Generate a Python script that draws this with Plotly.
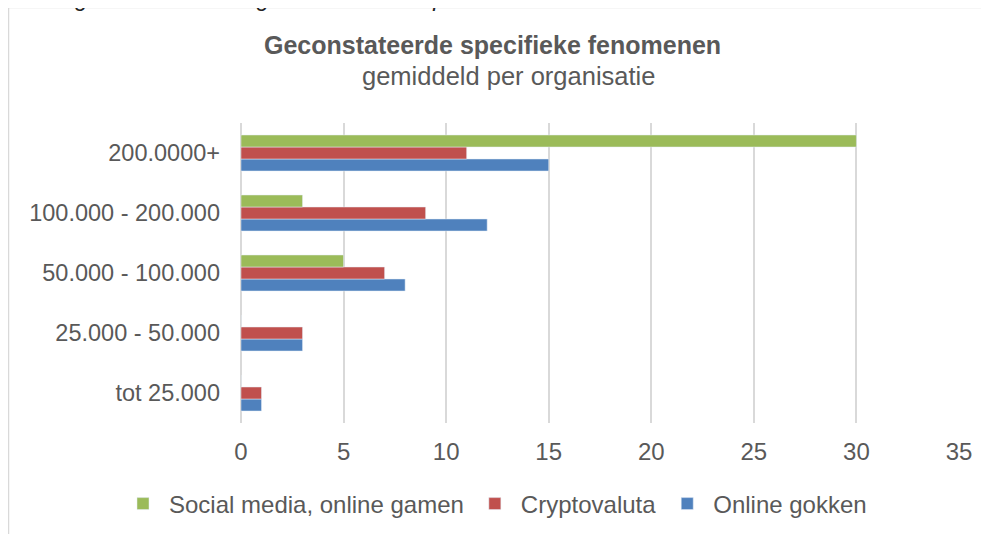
import plotly.graph_objects as go

# categories, listed bottom to top (plotly draws the first category at the bottom)
categories = ['tot 25.000', '25.000 - 50.000', '50.000 - 100.000',
              '100.000 - 200.000', '200.0000+']
online_gokken = [1, 3, 8, 12, 15]
cryptovaluta = [1, 3, 7, 9, 11]
social_media = [0, 0, 5, 3, 30]
x_ticks = [0, 5, 10, 15, 20, 25, 30, 35]

# the page puts the figure 8px in from the top-left corner
W, H = 989, 534
PLOT_L, PLOT_R, PLOT_T, PLOT_B = 241, 959, 123, 423   # plot area in page pixels
OFF = 8
TEXT = '#595959'
FONT = 'Liberation Sans, Arial, sans-serif'


def px_x(p):
    return (p - PLOT_L) / (PLOT_R - PLOT_L)


def px_y(p):
    return (PLOT_B - p) / (PLOT_B - PLOT_T)


fig = go.Figure()
fig.add_trace(go.Bar(y=categories, x=online_gokken, orientation='h',
                     name='Online gokken', marker_color='#4F81BD'))
fig.add_trace(go.Bar(y=categories, x=cryptovaluta, orientation='h',
                     name='Cryptovaluta', marker_color='#C0504D'))
fig.add_trace(go.Bar(y=categories, x=social_media, orientation='h',
                     name='Social media, online gamen', marker_color='#9BBB59'))

fig.update_layout(
    width=W, height=H,
    margin=dict(l=PLOT_L - OFF, r=W - (PLOT_R - OFF),
                t=PLOT_T - OFF, b=H - (PLOT_B - OFF), pad=0),
    plot_bgcolor='white', paper_bgcolor='white',
    barmode='group', bargap=0.4, bargroupgap=0,
    font=dict(family=FONT, size=24, color=TEXT),
    legend=dict(orientation='h', traceorder='reversed', itemwidth=42,
                x=px_x(117), xanchor='left', y=px_y(504), yanchor='middle',
                font=dict(size=24, color=TEXT), itemclick=False),
)
fig.update_xaxes(range=[0, 35], tickvals=x_ticks, showgrid=True,
                 gridcolor='#D9D9D9', gridwidth=1.5, zeroline=True,
                 zerolinecolor='#D9D9D9', zerolinewidth=1.5, showline=False,
                 ticks='', ticklabelstandoff=12, tickfont=dict(size=24),
                 fixedrange=True)
fig.update_yaxes(showgrid=False, ticks='', ticklabelstandoff=20,
                 tickfont=dict(size=23.5), showline=False, fixedrange=True)

# title and subtitle
fig.add_annotation(text='<b>Geconstateerde specifieke fenomenen</b>',
                   xref='paper', yref='paper', x=px_x(492), y=px_y(45),
                   xanchor='center', yanchor='middle',
                   showarrow=False, font=dict(size=25, color=TEXT))
fig.add_annotation(text='gemiddeld per organisatie',
                   xref='paper', yref='paper', x=px_x(508), y=px_y(76),
                   xanchor='center', yanchor='middle',
                   showarrow=False, font=dict(size=25.5, color=TEXT))
# caption above the chart, cut off by the page edge
fig.add_annotation(text='<i>Figuur 9: gemiddeld aantal geconstateerde specifieke fenomenen</i>',
                   xref='paper', yref='paper', x=px_x(-24), y=px_y(13),
                   xanchor='left', yanchor='bottom', showarrow=False,
                   font=dict(size=23, color='#222222'))
# chart frame
fig.add_shape(type='rect', xref='paper', yref='paper',
              x0=px_x(8.5), x1=px_x(1100), y0=px_y(7.5), y1=px_y(600),
              line=dict(color='#D9D9D9', width=1.5), layer='below')

fig.write_html('out.html')
